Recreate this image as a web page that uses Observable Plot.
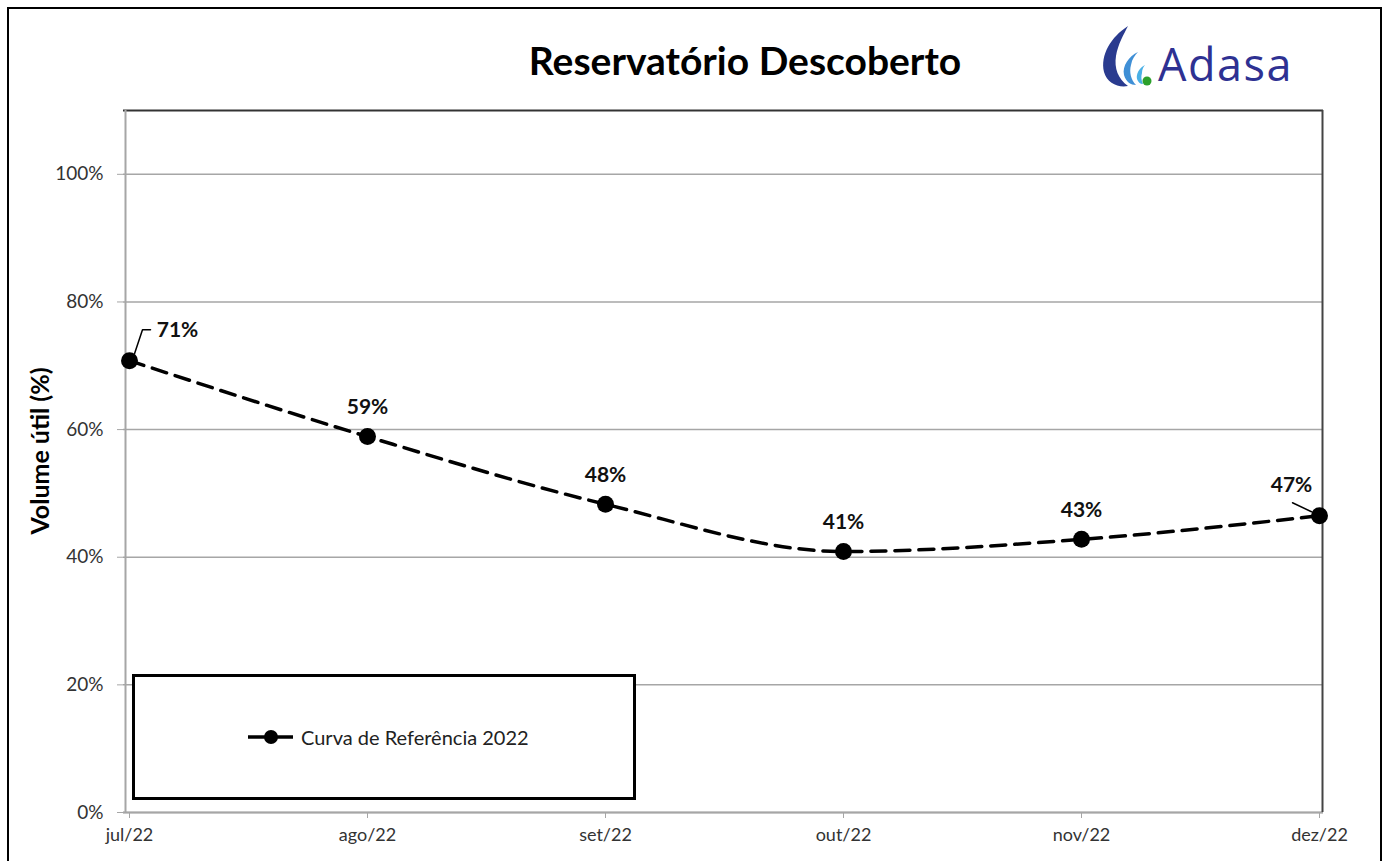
<!DOCTYPE html>
<html><head><meta charset="utf-8">
<script src="https://cdn.jsdelivr.net/npm/d3@7"></script>
<script src="https://cdn.jsdelivr.net/npm/@observablehq/plot@0.6"></script>
<style>
body{margin:0;background:#fff;font-family:Lato,"DejaVu Sans",sans-serif;}
#wrap{position:relative;width:1390px;height:861px;overflow:hidden;background:#fff;}
#frame{position:absolute;left:7px;top:7px;width:1375px;height:900px;border:2px solid #000;box-sizing:border-box;}
#chart{position:absolute;left:0;top:0;}
#title{position:absolute;left:0;width:1490px;top:36px;text-align:center;font-weight:bold;font-size:39px;color:#000;line-height:48px;}
#ylabel{position:absolute;left:39px;top:451px;transform:translate(-50%,-50%) rotate(-90deg);font-weight:bold;font-size:25px;white-space:nowrap;color:#000;}
#legend{position:absolute;left:132px;top:674px;width:504px;height:126px;border:3px solid #000;box-sizing:border-box;background:#fff;}
#legend svg{position:absolute;left:0;top:0;}
#legtext{position:absolute;left:166px;top:48px;font-size:20px;color:#222;white-space:nowrap;}
#logo{position:absolute;left:1092px;top:20px;}
</style></head><body>
<div id="wrap">
  <div id="frame"></div>
  <div id="chart"></div>
  <div id="title">Reservatório Descoberto</div>
  <div id="ylabel">Volume útil (%)</div>
  <div id="legend">
    <svg width="200" height="120"><line x1="113" x2="158" y1="60" y2="60" stroke="#000" stroke-width="3.5"/><circle cx="136" cy="60" r="7" fill="#000"/></svg>
    <div id="legtext">Curva de Referência 2022</div>
  </div>
  <svg id="logo" width="260" height="76">
    <path d="M36,6 C19,17 8,35 12,52 C15,63 26,68 36,66 C26,59 22,48 24,36 C26,24 32,14 36,6 Z" fill="#2a3b8f"/>
    <path d="M46,32 C37,36 30,46 32,55 C34,62 39,65 44,65 C39,60 37,52 39,45 C40,39 43,35 46,32 Z" fill="#3f8fd6"/>
    <path d="M53,45 C47,48 44,54 45,59 C46,62 48,64 51,64 C49,60 49,56 50,53 C50,50 51,47 53,45 Z" fill="#4ab0e6"/>
    <circle cx="55" cy="61" r="4.5" fill="#2ca02c"/>
    <text x="66" y="61" font-family="'Open Sans',Lato,sans-serif" font-size="45" fill="#2e3192" letter-spacing="1.5">Adasa</text>
  </svg>
</div>
<script>
const months = ["jul/22","ago/22","set/22","out/22","nov/22","dez/22"];
const volume = [0.708, 0.589, 0.483, 0.409, 0.428, 0.465];
const labels = ["71%","59%","48%","41%","43%","47%"];
const yTicks = [0, 0.2, 0.4, 0.6, 0.8, 1.0];

const data = months.map((m, i) => ({month: m, value: volume[i], label: labels[i]}));
const mid = data.slice(1, 5);
const first = [data[0]];
const last = [data[5]];

const leaderFirst = {draw(ctx) { ctx.moveTo(5, -7); ctx.lineTo(13, -31); ctx.lineTo(21, -31); }};
const leaderLast = {draw(ctx) { ctx.moveTo(-8, -4); ctx.lineTo(-27, -13); }};

const chart = Plot.plot({
  width: 1390,
  height: 861,
  marginLeft: 123,
  marginRight: 67,
  marginTop: 110,
  marginBottom: 49,
  style: {fontFamily: "Lato, sans-serif", fontSize: "18px", background: "transparent", color: "#333"},
  x: {type: "point", domain: months, range: [127, 1320], padding: 0},
  y: {domain: [0, 1.1]},
  marks: [
    Plot.gridY(yTicks, {stroke: "#a6a6a6", strokeOpacity: 1, strokeWidth: 1.5}),
    Plot.ruleY([0], {stroke: "#a6a6a6", strokeWidth: 2}),
    Plot.ruleY([1.1], {stroke: "#333", strokeWidth: 2}),
    Plot.ruleX(["jul/22"], {dx: -4, stroke: "#a6a6a6", strokeWidth: 2}),
    Plot.ruleX(["dez/22"], {dx: 3, stroke: "#444", strokeWidth: 2}),
    Plot.axisY({ticks: yTicks, tickFormat: d3.format(".0%"), tickSize: 6, tickPadding: 14, stroke: "#a6a6a6", fill: "#333", fontSize: 19, label: null}),
    Plot.axisX({tickSize: 6, tickPadding: 10, stroke: "#a6a6a6", fill: "#333", fontSize: 18, label: null}),
    Plot.line(data, {x: "month", y: "value", curve: "monotone-x", stroke: "#000", strokeWidth: 3.5, strokeDasharray: "15,9"}),
    Plot.dot(data, {x: "month", y: "value", r: 8.5, fill: "#000", stroke: "none"}),
    Plot.vector(first, {x: "month", y: "value", length: 30, anchor: "start", shape: leaderFirst, stroke: "#000", strokeWidth: 1.5}),
    Plot.vector(last, {x: "month", y: "value", length: 30, anchor: "start", shape: leaderLast, stroke: "#000", strokeWidth: 1.5}),
    Plot.text(mid, {x: "month", y: "value", text: "label", dy: -29, fontWeight: "bold", fontSize: 21, fill: "#111"}),
    Plot.text(first, {x: "month", y: "value", text: "label", dx: 48, dy: -30, fontWeight: "bold", fontSize: 21, fill: "#111"}),
    Plot.text(last, {x: "month", y: "value", text: "label", dx: -28, dy: -30, fontWeight: "bold", fontSize: 21, fill: "#111"})
  ]
});
document.getElementById("chart").appendChild(chart);
</script>
</body></html>
